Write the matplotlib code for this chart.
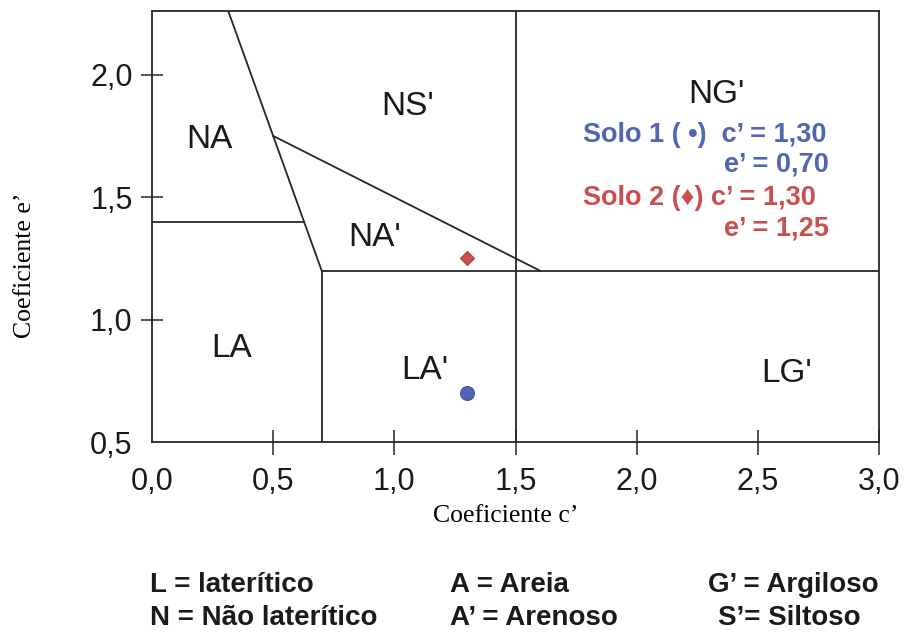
import numpy as np
import matplotlib.pyplot as plt

# MCT classification chart: c' vs e' with soil samples
xlim = (0.0, 3.0)
ylim = (0.5, 2.26)
xticks = [0.0, 0.5, 1.0, 1.5, 2.0, 2.5, 3.0]
yticks = [0.5, 1.0, 1.5, 2.0]

# boundary polylines (c', e')
boundaries = [
    ([0.3, 0.5, 0.7], [2.3, 1.75, 1.2]),      # NA / NS' / NA' diagonal
    ([0.5, 1.6], [1.75, 1.2]),                # NA' upper edge
    ([0.0, 0.627], [1.4, 1.4]),               # NA / LA
    ([0.7, 3.0], [1.2, 1.2]),                 # N / L split
    ([0.7, 0.7], [0.5, 1.2]),                 # LA / LA'
    ([1.5, 1.5], [0.5, 2.3]),                 # A' / G'
]

region_names = ["NS'", "NA", "NA'", "LA", "LA'", "NG'", "LG'"]
region_c = [1.055, 0.235, 0.92, 0.33, 1.125, 2.33, 2.62]
region_e = [1.87, 1.735, 1.335, 0.88, 0.792, 1.918, 0.78]

# samples
solo_c = [1.30, 1.30]
solo_e = [0.70, 1.25]
solo_marker = ["o", "D"]
solo_color = ["#5066b4", "#cc4f4f"]
solo_edge = ["#3f52a0", "#b03c3c"]

legend_rows = [
    ["L = laterítico", "A = Areia", "G\u2019 = Argiloso"],
    ["N = Não laterítico", "A\u2019 = Arenoso", "S\u2019= Siltoso"],
]
legend_x = [[150, 450, 708], [150, 450, 718]]
legend_y = [585, 618]

W, H = 907, 634
fig = plt.figure(figsize=(W / 100, H / 100), dpi=100)
ax = fig.add_axes([152 / W, 1 - 442 / H, (879 - 152) / W, (442 - 11) / H])

line_kw = dict(color="#262626", lw=1.3)
for bx, by in boundaries:
    ax.plot(bx, by, **line_kw)

for name, c, e in zip(region_names, region_c, region_e):
    ax.text(c, e, name, fontsize=24, family="Liberation Sans",
            ha="center", va="center", color="#1a1a1a")

for c, e, m, fc, ec in zip(solo_c, solo_e, solo_marker, solo_color, solo_edge):
    ms = 10 if m == "o" else 7.5
    ax.plot(c, e, marker=m, ms=ms, mfc=fc, mec=ec, mew=0.8, ls="none",
            zorder=5)

# sample annotations
ann_kw = dict(fontsize=19.5, family=["Liberation Sans", "DejaVu Sans"],
              fontweight="bold", va="center")
labels = [
    (583, 135, "left", f"Solo 1 ( \u2022)  c\u2019 = {solo_c[0]:.2f}".replace(".", ","), 0),
    (829, 165, "right", f"e\u2019 = {solo_e[0]:.2f}".replace(".", ","), 0),
    (583, 198, "left", f"Solo 2 (\u2666) c\u2019 = {solo_c[1]:.2f}".replace(".", ","), 1),
    (829, 228, "right", f"e\u2019 = {solo_e[1]:.2f}".replace(".", ","), 1),
]
for px, py, ha, txt, i in labels:
    fig.text(px / W, 1 - py / H, txt, ha=ha, color=solo_color[i], **ann_kw)

ax.set_xlim(*xlim)
ax.set_ylim(*ylim)
ax.set_xticks(xticks)
ax.set_yticks(yticks)
ax.set_xticklabels([f"{v:.1f}".replace(".", ",") for v in xticks])
ax.set_yticklabels([f"{v:.1f}".replace(".", ",") for v in yticks])
for lab in ax.get_xticklabels() + ax.get_yticklabels():
    lab.set_family("Liberation Sans")
    lab.set_fontsize(22)
    lab.set_color("#1a1a1a")
ax.tick_params(axis="x", direction="inout", length=18, width=1.1,
               color="#262626", pad=9)
ax.tick_params(axis="y", direction="inout", length=16, width=1.1,
               color="#262626", pad=6)
ax.xaxis.get_major_ticks()[0].tick1line.set_visible(False)
ax.yaxis.get_major_ticks()[0].tick1line.set_visible(False)
for sp in ax.spines.values():
    sp.set_color("#262626")
    sp.set_linewidth(1.3)

fig.text(506 / W, 1 - 516 / H, "Coeficiente c\u2019", family="Liberation Serif",
         fontsize=18.5, ha="center", va="center")
fig.text(25 / W, 1 - 265 / H, "Coeficiente e\u2019", family="Liberation Serif",
         fontsize=18.5, ha="center", va="center", rotation=90)

for row, xs, y in zip(legend_rows, legend_x, legend_y):
    for txt, x in zip(row, xs):
        fig.text(x / W, 1 - y / H, txt, family="Liberation Sans",
                 fontweight="bold", fontsize=20, ha="left", va="center",
                 color="#1a1a1a")

fig.savefig("out.png", dpi=100)
